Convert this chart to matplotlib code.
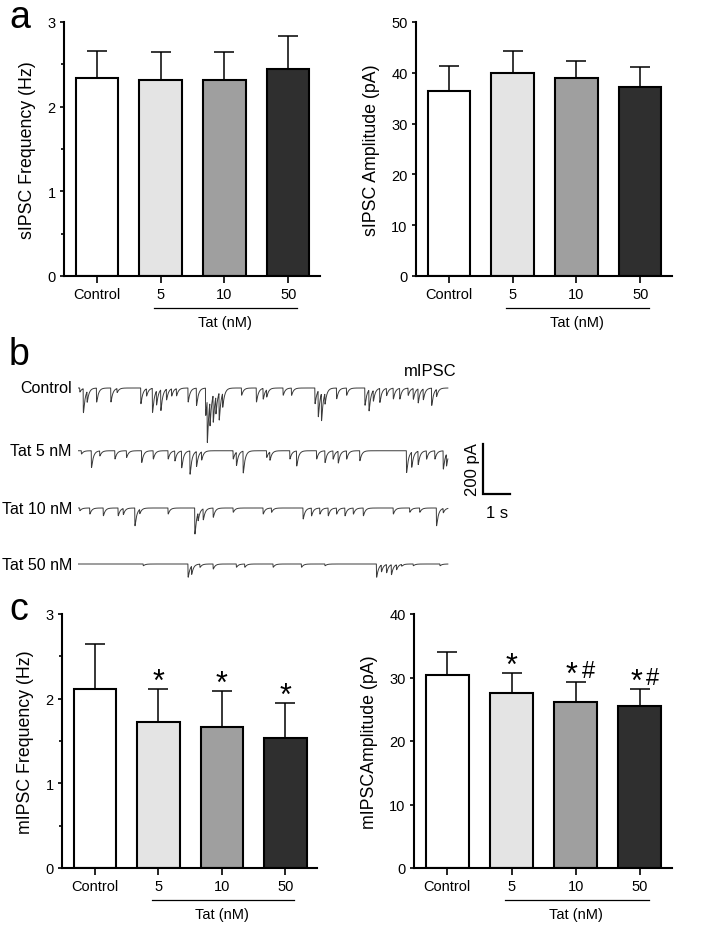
import numpy as np
import matplotlib
matplotlib.use("Agg")
from matplotlib import pyplot as plt
import matplotlib.transforms as mtransforms

plt.rcParams['font.family'] = ['Liberation Sans', 'DejaVu Sans']

groups = ['Control', '5', '10', '50']
colors = ['#ffffff', '#e4e4e4', '#9f9f9f', '#2f2f2f']

# panel a
s_freq = [2.34, 2.32, 2.32, 2.45]
s_freq_err = [0.32, 0.32, 0.33, 0.38]
s_amp = [36.4, 40.0, 39.0, 37.3]
s_amp_err = [4.9, 4.3, 3.3, 3.8]

# panel c
m_freq = [2.12, 1.73, 1.67, 1.54]
m_freq_err = [0.52, 0.39, 0.42, 0.41]
m_amp = [30.4, 27.6, 26.2, 25.5]
m_amp_err = [3.6, 3.1, 3.15, 2.7]
m_freq_marks = ['', '*', '*', '*']
m_amp_marks = ['', '*', '*#', '*#']

# panel b: events as (time s, amplitude pA)
trace_names = ['Control', 'Tat 5 nM', 'Tat 10 nM', 'Tat 50 nM']
ev_control = [(0.06, 16), (0.19, 96), (0.33, 43), (0.68, 56), (1.21, 56), (1.44, 16),
              (2.32, 63), (2.53, 29), (2.75, 96), (2.90, 56), (3.06, 83), (3.27, 43),
              (3.46, 29), (3.64, 29), (4.07, 56), (4.38, 69), (4.72, 109), (4.78, 169),
              (4.88, 96), (5.00, 109), (5.10, 69), (5.22, 109), (5.35, 56), (6.05, 29),
              (6.60, 56), (6.85, 43), (6.98, 29), (7.59, 29), (7.90, 29), (8.77, 63),
              (8.89, 103), (9.01, 109), (9.14, 43), (9.57, 43), (9.94, 29), (10.62, 69),
              (10.77, 83), (10.93, 43), (11.17, 56), (11.42, 29), (11.67, 43), (11.91, 43),
              (12.22, 29), (12.41, 43), (12.59, 56), (12.78, 43), (13.09, 69), (13.27, 29)]
ev_tat5 = [(0.12, 13), (0.49, 67), (0.80, 20), (1.36, 33), (1.79, 27), (2.35, 47),
           (2.78, 33), (3.33, 33), (3.58, 40), (3.83, 67), (4.14, 93), (4.38, 60),
           (4.57, 33), (5.74, 33), (5.86, 53), (6.11, 87), (6.98, 27), (7.10, 33),
           (7.84, 33), (8.09, 60), (8.83, 33), (9.14, 47), (9.44, 33), (9.63, 47),
           (9.94, 33), (10.43, 40), (12.16, 87), (12.35, 60), (12.59, 53), (12.90, 33),
           (13.21, 33), (13.52, 73), (13.64, 47)]
ev_tat10 = [(0.06, 11), (0.43, 24), (0.93, 31), (1.48, 31), (1.67, 24), (2.10, 71),
            (2.28, 17), (3.33, 24), (4.32, 104), (4.44, 31), (4.63, 44), (5.00, 37),
            (5.74, 17), (6.85, 24), (7.16, 17), (8.33, 44), (8.64, 31), (8.95, 24),
            (9.26, 31), (9.57, 24), (9.88, 31), (10.19, 24), (10.56, 31), (11.67, 24),
            (12.28, 17), (12.65, 17), (13.27, 71), (13.52, 17)]
ev_tat50 = [(2.41, 7), (4.07, 53), (4.20, 33), (4.51, 13), (5.00, 20), (5.86, 13),
            (6.17, 13), (7.22, 13), (8.27, 13), (9.14, 7), (11.05, 53), (11.23, 27),
            (11.42, 33), (11.60, 40), (11.79, 20), (11.98, 7), (12.41, 7), (13.40, 7)]
events = [ev_control, ev_tat5, ev_tat10, ev_tat50]
trace_len = 13.7

W, H = 704, 937
fig = plt.figure(figsize=(W / 100, H / 100), dpi=100)


def px_axes(x0, y0, x1, y1):
    return fig.add_axes([x0 / W, 1 - y1 / H, (x1 - x0) / W, (y1 - y0) / H])


def bar_panel(ax, vals, errs, ymax, step, ylabel, minor=None, marks=None):
    x = np.arange(len(vals))
    ax.bar(x, vals, width=0.67, color=colors, edgecolor='black', linewidth=1.5, zorder=2)
    ax.errorbar(x, vals, yerr=[np.zeros(len(errs)), errs], fmt='none', ecolor='black',
                elinewidth=1.1, capsize=7.5, capthick=1.1, zorder=1)
    ax.set_xlim(-0.52, 3.5)
    ax.set_ylim(0, ymax)
    ax.set_yticks(np.arange(0, ymax + step / 2, step))
    if minor:
        ax.set_yticks(np.arange(minor, ymax, step), minor=True)
        ax.tick_params(axis='y', which='minor', length=2.2, width=1.2)
    ax.set_xticks(x)
    ax.set_xticklabels(groups)
    for s in ['top', 'right']:
        ax.spines[s].set_visible(False)
    for s in ['left', 'bottom']:
        ax.spines[s].set_linewidth(1.5)
    ax.tick_params(axis='x', length=5, width=1.2, labelsize=10.5, pad=3)
    ax.tick_params(axis='y', which='major', length=3, width=1.2, labelsize=10.5, pad=3)
    ax.set_ylabel(ylabel, fontsize=12.8, labelpad=8)
    tr = mtransforms.blended_transform_factory(ax.transData, ax.transAxes)
    ax.plot([0.9, 3.14], [-0.125, -0.125], color='black', lw=0.9, transform=tr, clip_on=False)
    ax.text(2.0, -0.18, 'Tat (nM)', transform=tr, ha='center', va='center', fontsize=10.5)
    if marks:
        for i, m in enumerate(marks):
            if not m:
                continue
            top = vals[i] + errs[i]
            if m == '*':
                ax.annotate('*', (i, top), xytext=(0, -6), textcoords='offset points',
                            ha='center', va='bottom', fontsize=22)
            else:
                ax.annotate('*', (i - 0.06, top), xytext=(0, -6), textcoords='offset points',
                            ha='center', va='bottom', fontsize=22)
                ax.annotate('#', (i + 0.2, top), xytext=(0, 0), textcoords='offset points',
                            ha='center', va='bottom', fontsize=17)


ax1 = px_axes(64, 23, 320, 277)
bar_panel(ax1, s_freq, s_freq_err, 3, 1, 'sIPSC Frequency (Hz)', minor=0.5)
ax2 = px_axes(416, 23, 672, 277)
bar_panel(ax2, s_amp, s_amp_err, 50, 10, 'sIPSC Amplitude (pA)')
ax3 = px_axes(62, 615, 317, 869)
bar_panel(ax3, m_freq, m_freq_err, 3, 1, 'mIPSC Frequency (Hz)', minor=0.5, marks=m_freq_marks)
ax4 = px_axes(414, 615, 672, 869)
bar_panel(ax4, m_amp, m_amp_err, 40, 10, 'mIPSCAmplitude (pA)', marks=m_amp_marks)

# panel b traces
axb = px_axes(78, 360, 520, 600)
axb.set_xlim(0, 442 / 27)
axb.set_ylim(-960, 0)
axb.axis('off')
t = np.arange(0, trace_len, 0.002)
k = np.arange(0, 0.8, 0.002)
kern = (1 - np.exp(-k / 0.004)) * np.exp(-k / 0.07)
kern /= kern.max()
baselines = [-116, -367, -596, -820]
label_y = [389, 452, 509, 565]
for evs, base, name, ly in zip(events, baselines, trace_names, label_y):
    y = np.full_like(t, float(base))
    for te, amp in evs:
        i0 = int(round(te / 0.002))
        n = min(len(kern), len(t) - i0)
        y[i0:i0 + n] -= amp * kern[:n]
    axb.plot(t, y, color='#3a3a3a', lw=0.7)
    fig.text(72 / W, 1 - ly / H, name, ha='right', va='center', fontsize=11.5)

# scale bar
sx = (483 - 78) / 27
axb.plot([sx, sx, sx + 1], [-340, -540, -540], color='black', lw=1.6, solid_joinstyle='miter')
fig.text(472 / W, 1 - 470 / H, '200 pA', rotation=90, ha='center', va='center', fontsize=12)
fig.text(497 / W, 1 - 513 / H, '1 s', ha='center', va='center', fontsize=12)
fig.text(430 / W, 1 - 372 / H, 'mIPSC', ha='center', va='center', fontsize=12)

# panel letters
fig.text(20 / W, 1 - 18 / H, 'a', ha='center', va='center', fontsize=27)
fig.text(19 / W, 1 - 355 / H, 'b', ha='center', va='center', fontsize=27)
fig.text(19 / W, 1 - 610 / H, 'c', ha='center', va='center', fontsize=27)

fig.savefig('out.png', dpi=100)
